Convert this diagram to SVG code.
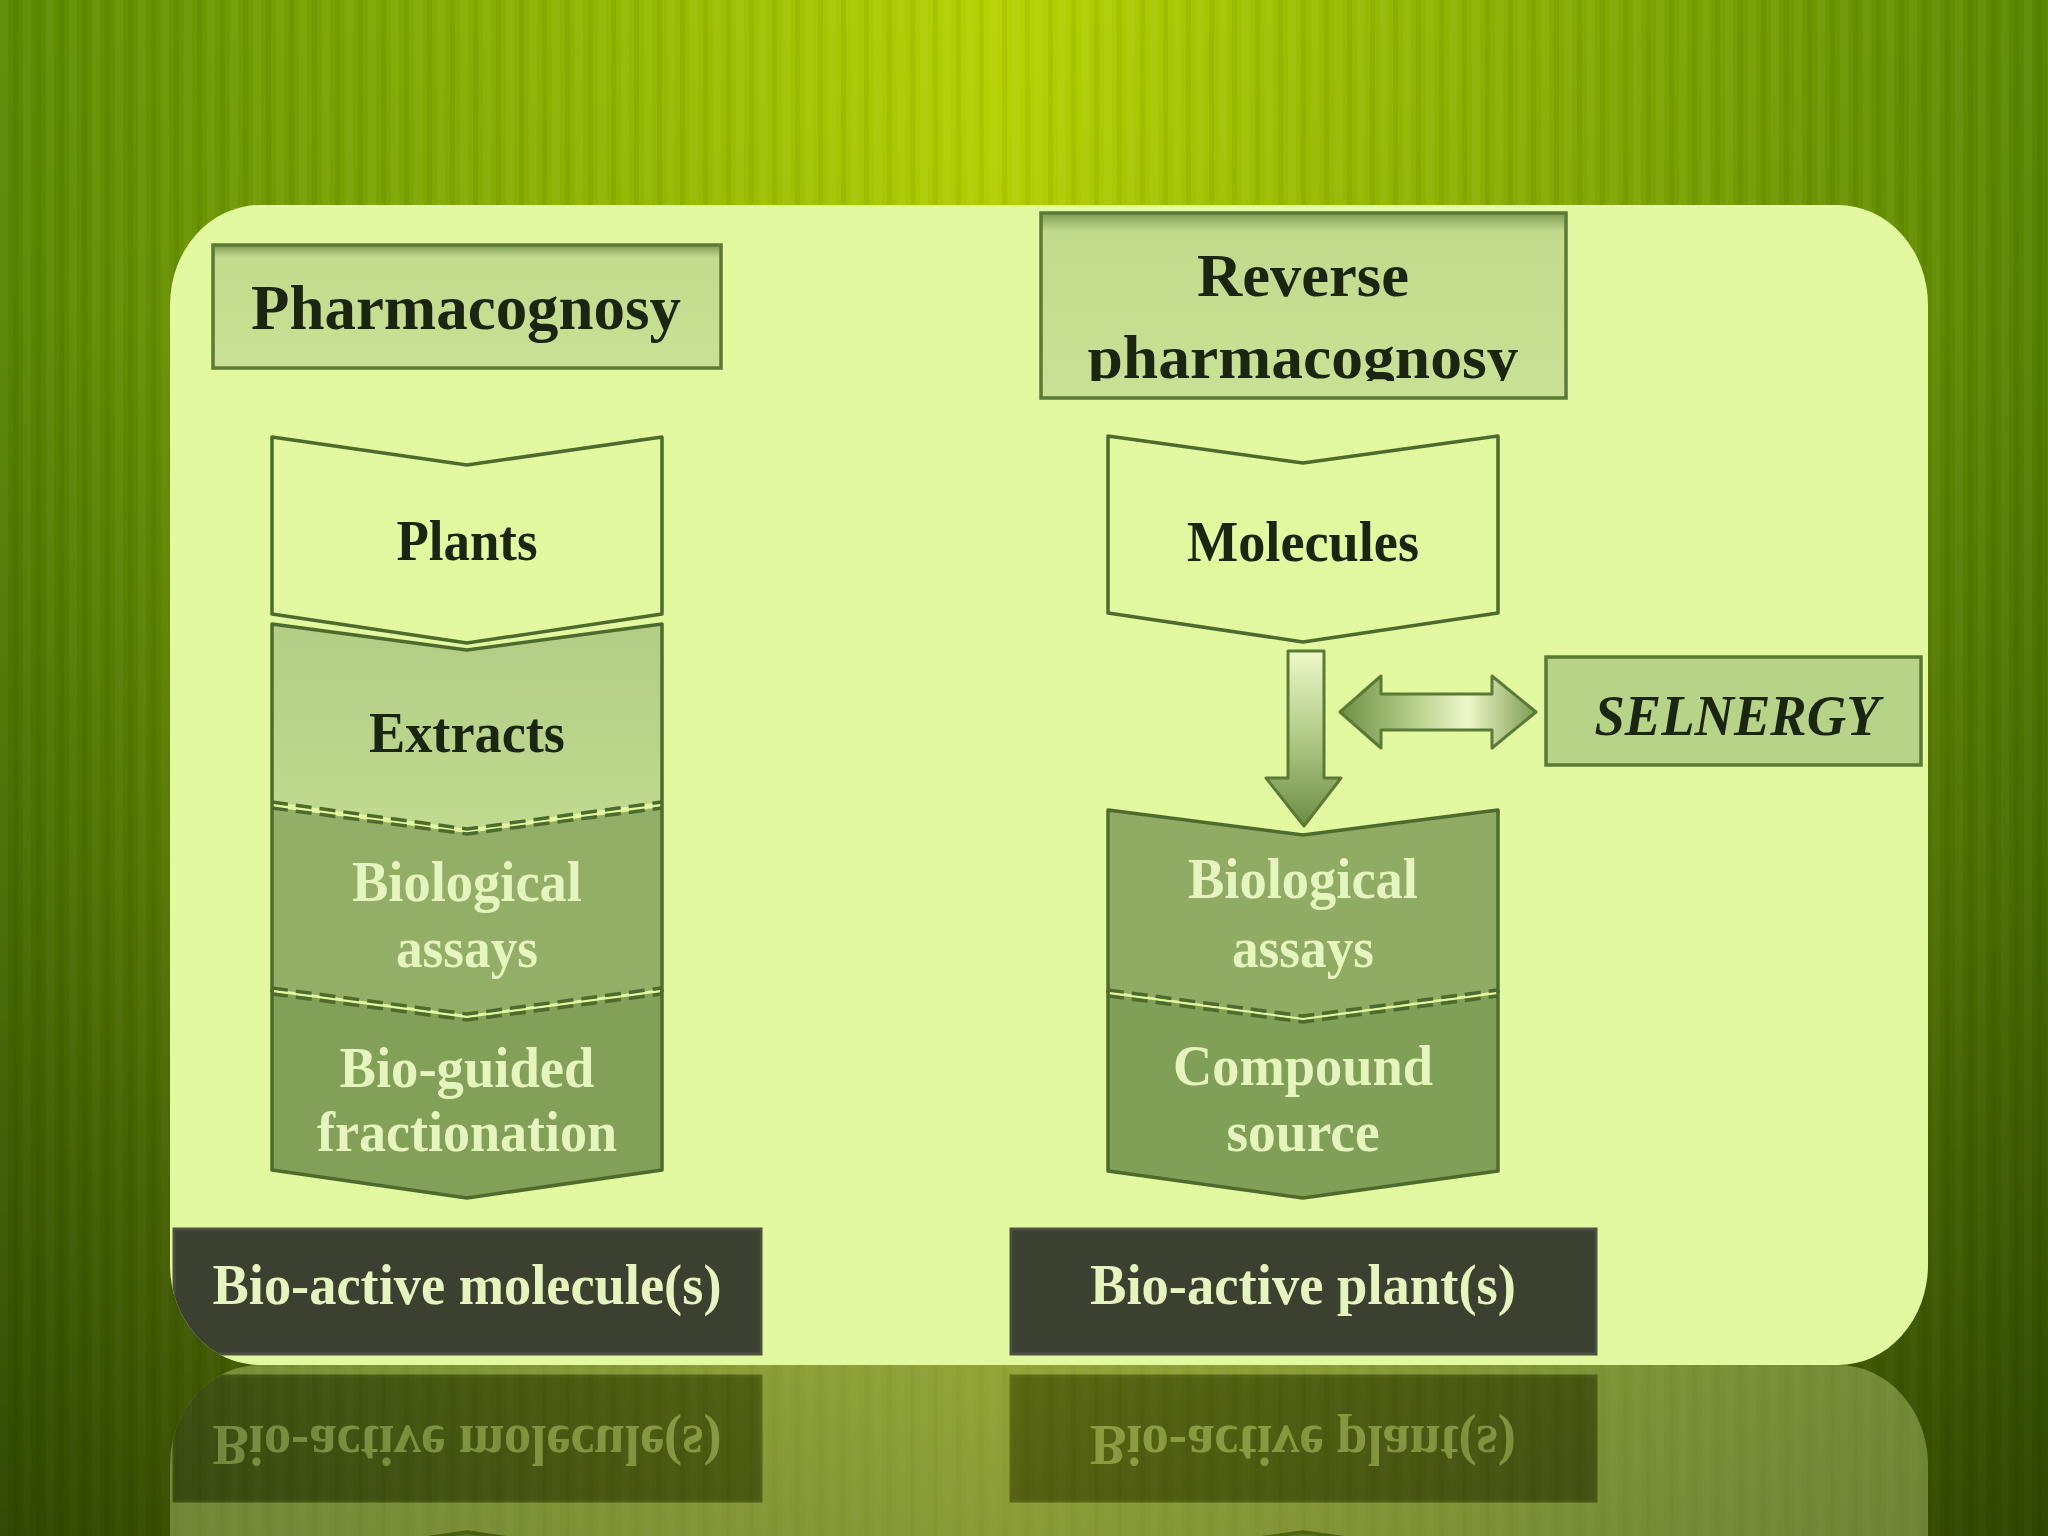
<svg xmlns="http://www.w3.org/2000/svg" xmlns:xlink="http://www.w3.org/1999/xlink" width="2048" height="1536" viewBox="0 0 2048 1536">
<defs>
  <linearGradient id="bgH" x1="0" y1="0" x2="1" y2="0">
    <stop offset="0" stop-color="#5a8800"/>
    <stop offset="0.22" stop-color="#84ac00"/>
    <stop offset="0.49" stop-color="#b6d300"/>
    <stop offset="0.76" stop-color="#86ac00"/>
    <stop offset="1" stop-color="#598600"/>
  </linearGradient>
  <linearGradient id="bgV" x1="0" y1="0" x2="0" y2="1">
    <stop offset="0" stop-color="#000" stop-opacity="0"/>
    <stop offset="0.2" stop-color="#000" stop-opacity="0.03"/>
    <stop offset="0.55" stop-color="#000" stop-opacity="0.2"/>
    <stop offset="1" stop-color="#000" stop-opacity="0.48"/>
  </linearGradient>
  <pattern id="stripes" width="23" height="40" patternUnits="userSpaceOnUse">
    <rect x="0" y="0" width="8" height="40" fill="#ffffff" opacity="0.05"/>
    <rect x="13" y="0" width="5" height="40" fill="#000000" opacity="0.05"/>
  </pattern>
  <linearGradient id="hdr" x1="0" y1="0" x2="0" y2="1">
    <stop offset="0" stop-color="#7f9c55"/>
    <stop offset="0.1" stop-color="#c2da8c"/>
    <stop offset="1" stop-color="#c9e194"/>
  </linearGradient>
  <linearGradient id="gDown" x1="0" y1="0" x2="0" y2="1">
    <stop offset="0" stop-color="#eef9c8"/>
    <stop offset="0.55" stop-color="#a9c47e"/>
    <stop offset="1" stop-color="#6c8c44"/>
  </linearGradient>
  <linearGradient id="gBoth" x1="0" y1="0" x2="1" y2="0">
    <stop offset="0" stop-color="#6f8f46"/>
    <stop offset="0.3" stop-color="#a6c27a"/>
    <stop offset="0.65" stop-color="#eef8c8"/>
    <stop offset="1" stop-color="#7c9c52"/>
  </linearGradient>
  <linearGradient id="gExt" x1="0" y1="0" x2="0" y2="1">
    <stop offset="0" stop-color="#b2ce84"/>
    <stop offset="1" stop-color="#c0da90"/>
  </linearGradient>
  <clipPath id="panelClip"><rect x="170" y="205" width="1758" height="1160" rx="90" ry="100"/></clipPath>
  <clipPath id="revClip"><rect x="1041" y="213" width="525" height="168"/></clipPath>
  <style>
    .t{font-family:"Liberation Serif","Times New Roman",serif;font-weight:bold;text-anchor:middle}
    .dk{fill:#1b2612}
    .lt{fill:#e6f5bd}
    .edge{fill:none;stroke:#4d6b2c;stroke-width:3.5;stroke-linejoin:round}
    .dash{fill:none;stroke:#4d6b2c;stroke-width:3.5;stroke-dasharray:16 8}
    .hbox{fill:url(#hdr);stroke:#5b7a35;stroke-width:3.5}
    .dbox{fill:#3b4031;stroke:#4c5242;stroke-width:3}
  </style>
</defs>

<!-- background -->
<rect x="0" y="0" width="2048" height="1536" fill="url(#bgH)"/>
<rect x="0" y="0" width="2048" height="1536" fill="url(#stripes)"/>
<rect x="0" y="0" width="2048" height="1536" fill="url(#bgV)"/>

<g id="content">
  <rect id="panel" x="170" y="205" width="1758" height="1160" rx="90" ry="100" fill="#e2f9a0"/>

  <g id="node-pharmacognosy">
    <rect class="hbox" x="213" y="245" width="508" height="123"/>
    <text class="t dk" x="466" y="329" font-size="64" textLength="430" lengthAdjust="spacingAndGlyphs">Pharmacognosy</text>
  </g>

  <g id="node-reverse">
    <rect class="hbox" x="1041" y="213" width="525" height="185"/>
    <text class="t dk" x="1303" y="296" font-size="62" textLength="212" lengthAdjust="spacingAndGlyphs">Reverse</text>
    <g clip-path="url(#revClip)">
      <text class="t dk" x="1303" y="378" font-size="62" textLength="431" lengthAdjust="spacingAndGlyphs">pharmacognosy</text>
    </g>
  </g>

  <!-- left column chevrons -->
  <g id="node-plants">
    <polygon points="272,437 467,465 662,437 662,614 467,643 272,614" fill="#e4faa6" class="edge"/>
    <text class="t dk" x="467" y="560" font-size="56" textLength="141" lengthAdjust="spacingAndGlyphs">Plants</text>
  </g>
  <g id="node-extracts">
    <polygon points="272,624 467,650 662,624 662,802 467,829 272,802" fill="url(#gExt)" stroke="none"/>
    <polyline class="edge" points="272,802 272,624 467,650 662,624 662,802"/>
    <text class="t dk" x="467" y="752" font-size="56" textLength="196" lengthAdjust="spacingAndGlyphs">Extracts</text>
  </g>
  <g id="node-bioassays-left">
    <polygon points="272,807 467,833 662,807 662,989 467,1015 272,989" fill="#93af67" stroke="none"/>
    <polyline class="edge" points="272,802 272,992"/>
    <polyline class="edge" points="662,802 662,992"/>
    <text class="t lt" x="467" y="901" font-size="58" textLength="230" lengthAdjust="spacingAndGlyphs">Biological</text>
    <text class="t lt" x="467" y="967" font-size="58" textLength="142" lengthAdjust="spacingAndGlyphs">assays</text>
  </g>
  <g id="node-bioguided">
    <polygon points="272,992 467,1018 662,992 662,1170 467,1198 272,1170" fill="#83a059" stroke="none"/>
    <polyline class="edge" points="272,990 272,1170 467,1198 662,1170 662,990"/>
    <text class="t lt" x="467" y="1087" font-size="58" textLength="255" lengthAdjust="spacingAndGlyphs">Bio-guided</text>
    <text class="t lt" x="467" y="1151" font-size="58" textLength="300" lengthAdjust="spacingAndGlyphs">fractionation</text>
  </g>
  <g id="sep-left">
    <polyline class="dash" points="272,802 467,829 662,802"/>
    <polyline class="dash" points="272,808 467,834 662,808"/>
    <polyline class="dash" points="272,988 467,1014 662,988"/>
    <polyline class="dash" points="272,994 467,1020 662,994"/>
  </g>

  <!-- right column chevrons -->
  <g id="node-molecules">
    <polygon points="1108,436 1303,463 1498,436 1498,613 1303,642 1108,613" fill="#e4faa6" class="edge"/>
    <text class="t dk" x="1303" y="561" font-size="56" textLength="232" lengthAdjust="spacingAndGlyphs">Molecules</text>
  </g>
  <g id="node-bioassays-right">
    <polygon points="1108,810 1303,835 1498,810 1498,991 1303,1018 1108,991" fill="#90ac64" stroke="none"/>
    <polyline class="edge" points="1108,993 1108,810 1303,835 1498,810 1498,993"/>
    <text class="t lt" x="1303" y="898" font-size="58" textLength="230" lengthAdjust="spacingAndGlyphs">Biological</text>
    <text class="t lt" x="1303" y="967" font-size="58" textLength="142" lengthAdjust="spacingAndGlyphs">assays</text>
  </g>
  <g id="node-compound">
    <polygon points="1108,994 1303,1020 1498,994 1498,1171 1303,1198 1108,1171" fill="#80a058" stroke="none"/>
    <polyline class="edge" points="1108,990 1108,1171 1303,1198 1498,1171 1498,990"/>
    <text class="t lt" x="1303" y="1085" font-size="58" textLength="260" lengthAdjust="spacingAndGlyphs">Compound</text>
    <text class="t lt" x="1303" y="1151" font-size="58" textLength="153" lengthAdjust="spacingAndGlyphs">source</text>
  </g>
  <g id="sep-right">
    <polyline class="dash" points="1108,990 1303,1016 1498,990"/>
    <polyline class="dash" points="1108,996 1303,1022 1498,996"/>
  </g>

  <g id="node-selnergy">
    <rect x="1546" y="657" width="375" height="108" fill="#b7d387" stroke="#5b7a35" stroke-width="3.5"/>
    <text class="t dk" x="1737" y="735" font-size="58" font-style="italic" textLength="285" lengthAdjust="spacingAndGlyphs">SELNERGY</text>
  </g>

  <g id="connectors" stroke="#5a7a35" stroke-width="3" stroke-linejoin="round">
    <polygon id="arrow-down" points="1288,651 1324,651 1324,778 1341,778 1304,826 1266,778 1288,778" fill="url(#gDown)"/>
    <polygon id="arrow-both" points="1340,712 1381,676 1381,694 1492,694 1492,676 1536,712 1492,748 1492,730 1381,730 1381,748" fill="url(#gBoth)"/>
  </g>

  <g clip-path="url(#panelClip)">
    <g id="node-bioactive-molecules">
      <rect class="dbox" x="174" y="1229" width="587" height="125"/>
      <text class="t lt" x="467" y="1304" font-size="58" textLength="509" lengthAdjust="spacingAndGlyphs">Bio-active molecule(s)</text>
    </g>
    <g id="node-bioactive-plants">
      <rect class="dbox" x="1011" y="1229" width="585" height="125"/>
      <text class="t lt" x="1303" y="1304" font-size="58" textLength="426" lengthAdjust="spacingAndGlyphs">Bio-active plant(s)</text>
    </g>
  </g>
</g>

<!-- reflection -->
<use xlink:href="#content" href="#content" transform="matrix(1 0 0 -1 0 2730)" opacity="0.33"/>
</svg>
